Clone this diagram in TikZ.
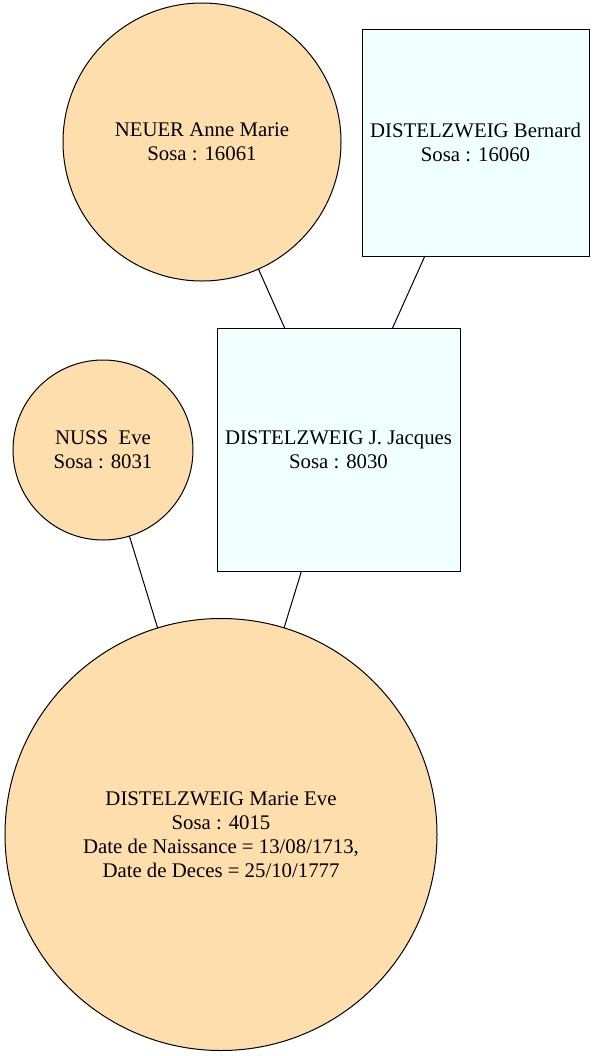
\documentclass[tikz,border=0pt]{standalone}
\usepackage{fontspec}
\setmainfont{Liberation Serif}
\begin{document}
\begin{tikzpicture}[x=1bp,y=-1bp,
  person/.style={draw=black,line width=1bp,inner sep=0pt,outer sep=0pt,align=center,
    font=\fontsize{20.8bp}{24bp}\selectfont},
  female/.style={person,circle,fill=femalefill},
  male/.style={person,rectangle,fill=malefill},
  link/.style={draw=black,line width=1bp}]
\definecolor{femalefill}{HTML}{FFDEAD}
\definecolor{malefill}{HTML}{F0FFFF}
\useasboundingbox (0,0) rectangle (595,1056);
\node[female,minimum size=278bp] (neuer) at (202,142) {NEUER Anne Marie\\Sosa : 16061};
\node[male,minimum width=227bp,minimum height=227bp] (bernard) at (475.5,142.5) {DISTELZWEIG Bernard\\Sosa : 16060};
\node[male,minimum width=243bp,minimum height=243bp] (jacques) at (338.5,449.5) {DISTELZWEIG J. Jacques\\Sosa : 8030};
\node[female,minimum size=180bp] (nuss) at (103,450) {NUSS\ \ Eve\\Sosa : 8031};
\node[female,minimum size=432bp] (marie) at (221,834.5) {DISTELZWEIG Marie Eve\\Sosa : 4015\\Date de Naissance = 13/08/1713,\\Date de Deces = 25/10/1777};
\draw[link] (neuer) -- (jacques);
\draw[link] (bernard) -- (jacques);
\draw[link] (nuss) -- (marie);
\draw[link] (jacques) -- (marie);
\end{tikzpicture}
\end{document}
